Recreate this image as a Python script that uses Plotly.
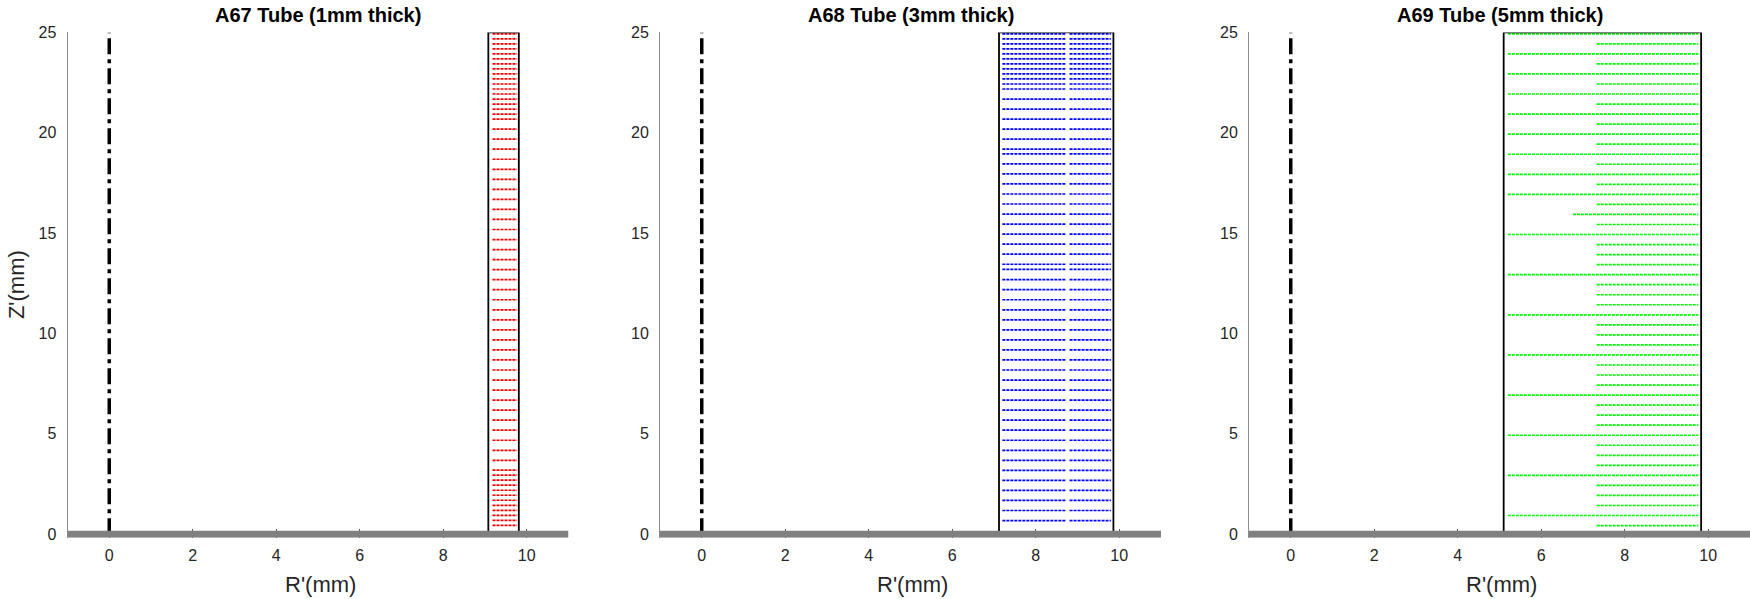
import plotly.graph_objects as go

# ---------------- data ----------------
titles = ["A67 Tube (1mm thick)", "A68 Tube (3mm thick)", "A69 Tube (5mm thick)"]
x_ticks = [0, 2, 4, 6, 8, 10]
y_ticks = [0, 5, 10, 15, 20, 25]
x_range = [-1, 11]
z_top = 25

# tube wall (inner / outer radius)
tube_inner = [9.08, 7.12, 5.10]
tube_outer = [9.81, 9.86, 9.83]

# A67 mesh rows (red)
a67_rows_y = [24.93, 24.68, 24.43, 24.18, 23.93, 23.68, 23.43, 23.18, 22.93, 22.68,
              22.43, 22.18, 21.93, 21.68, 21.43, 21.18, 20.93, 20.68,
              20.18, 19.68, 19.18, 18.68, 18.18, 17.68, 17.18, 16.68, 16.18, 15.68,
              15.18, 14.68, 14.18, 13.68, 13.18, 12.68, 12.18, 11.68, 11.18, 10.68,
              10.18, 9.68, 9.18, 8.68, 8.18, 7.68, 7.18, 6.68, 6.18, 5.68, 5.18,
              4.68, 4.18, 3.68,
              3.19, 2.94, 2.69, 2.44, 2.19, 1.94, 1.69, 1.44, 1.19, 0.94, 0.69, 0.44]
a67_seg = [[9.18, 9.77]]

# A68 mesh rows (blue), two segments per row
a68_rows_y = [24.93, 24.68, 24.43, 24.18, 23.93, 23.68, 23.43, 23.18, 22.93, 22.68,
              22.43, 22.18, 21.68, 21.18, 20.68, 20.18, 19.68, 19.18, 18.95, 18.45,
              17.95, 17.45, 16.95, 16.45, 15.95, 15.45, 14.95, 14.45, 13.95, 13.45,
              13.19, 12.68, 12.18, 11.68, 11.18, 10.68, 10.18, 9.68, 9.18, 8.68,
              8.18, 7.68, 7.18, 6.68, 6.18, 5.68, 5.18, 4.68, 4.18, 3.68, 3.18,
              2.68, 2.18, 1.68, 1.18, 0.68]
a68_seg = [[7.20, 8.73], [8.81, 9.80]]

# A69 mesh rows (green), each row with its own start radius
a69_rows_y = [24.93, 24.43, 23.93, 23.43, 22.93, 22.43, 21.93, 21.43, 20.93, 20.43,
              19.93, 19.43, 18.93, 18.43, 17.93, 17.43, 16.93, 16.43, 15.93, 15.43,
              14.93, 14.43, 13.93, 13.43, 12.93, 12.43, 11.93, 11.43, 10.93, 10.43,
              9.93, 9.43, 8.93, 8.43, 7.93, 7.43, 6.93, 6.43, 5.93, 5.43,
              4.93, 4.43, 3.93, 3.43, 2.93, 2.43, 1.93, 1.43, 0.93, 0.43]
a69_rows_x0 = [5.20, 7.33, 5.20, 7.33, 5.20, 7.33, 5.20, 7.33, 5.20, 7.33,
               5.20, 7.33, 5.20, 7.33, 5.20, 7.33, 5.20, 7.33, 6.76, 7.33,
               5.20, 7.33, 7.33, 7.33, 5.20, 7.33, 7.33, 7.33, 5.20, 7.33,
               7.33, 7.33, 5.20, 7.33, 7.33, 7.33, 5.20, 7.33, 7.33, 7.33,
               5.20, 7.33, 7.33, 7.33, 5.20, 7.33, 7.33, 7.33, 5.20, 7.33]
a69_row_x1 = 9.76

row_colors = ["rgb(255,0,0)", "rgb(0,0,255)", "rgb(0,255,0)"]

# ---------------- build rows ----------------
def rows_from_segments(ys, segs):
    xs, yy = [], []
    for y in ys:
        for a, b in segs:
            xs += [a, b, None]
            yy += [y, y, None]
    return xs, yy

def rows_from_starts(ys, x0s, x1):
    xs, yy = [], []
    for y, a in zip(ys, x0s):
        xs += [a, x1, None]
        yy += [y, y, None]
    return xs, yy

rows = [rows_from_segments(a67_rows_y, a67_seg),
        rows_from_segments(a68_rows_y, a68_seg),
        rows_from_starts(a69_rows_y, a69_rows_x0, a69_row_x1)]

W, H = 1750, 599
x_domains = [[67.5 / W, 568.5 / W], [660 / W, 1161 / W], [1249 / W, 1.0]]
y_domain = [61.2 / H, 1 - 32.4 / H]
tick_font = dict(family="Liberation Sans", size=16, color="#262626")

fig = go.Figure()
annotations = []
for i in range(3):
    ax = "" if i == 0 else str(i + 1)
    xa, ya = "x" + ax, "y" + ax
    rx, ry = rows[i]
    fig.add_trace(go.Scatter(x=rx, y=ry, mode="lines", xaxis=xa, yaxis=ya,
                             line=dict(color=row_colors[i], width=1.7, dash="3px,1px"),
                             hoverinfo="skip", showlegend=False))
    # tube wall outline
    fig.add_trace(go.Scatter(x=[tube_inner[i], tube_inner[i], tube_outer[i], tube_outer[i]],
                             y=[0, z_top, z_top, 0], mode="lines", xaxis=xa, yaxis=ya,
                             line=dict(color="black", width=1.8),
                             hoverinfo="skip", showlegend=False))
    # axis of symmetry
    fig.add_trace(go.Scatter(x=[0, 0], y=[0, z_top], mode="lines", xaxis=xa, yaxis=ya,
                             line=dict(color="black", width=3.5, dash="16px,5px,4px,5px"),
                             hoverinfo="skip", showlegend=False))
    # base plate
    fig.add_trace(go.Scatter(x=x_range, y=[0, 0], mode="lines", xaxis=xa, yaxis=ya,
                             line=dict(color="#808080", width=7),
                             hoverinfo="skip", showlegend=False))

    fig.update_layout(**{
        "xaxis" + ax: dict(domain=x_domains[i], range=x_range, tickvals=x_ticks,
                           ticktext=[str(t) for t in x_ticks],
                           showgrid=False, zeroline=False, showline=False,
                           ticks="inside", ticklen=9, tickcolor="#555555", tickwidth=1,
                           layer="below traces", anchor=ya, automargin=False,
                           tickfont=tick_font, ticklabelstandoff=6),
        "yaxis" + ax: dict(domain=y_domain, range=[-0.18, z_top], tickvals=y_ticks,
                           ticktext=[str(t) for t in y_ticks],
                           showgrid=False, zeroline=False, showline=True,
                           linecolor="#8c8c8c", linewidth=1, ticks="", anchor=xa,
                           automargin=False, tickfont=tick_font, ticklabelstandoff=7),
    })
    annotations.append(dict(text="<b>" + titles[i] + "</b>", xref=xa + " domain", yref=ya + " domain",
                            x=0.5, y=1, yanchor="middle", yshift=17, showarrow=False,
                            font=dict(family="Liberation Sans", size=20, color="black")))
    annotations.append(dict(text="R'(mm)", xref=xa + " domain", yref=ya + " domain",
                            x=0.5, y=0, yanchor="middle", yshift=-47, xshift=2, showarrow=False,
                            font=dict(family="Liberation Sans", size=22, color="#262626")))

annotations.append(dict(text="Z'(mm)", xref="x domain", yref="y domain", x=0, y=0.5,
                        xanchor="center", yanchor="middle", xshift=-51.5, textangle=-90,
                        showarrow=False,
                        font=dict(family="Liberation Sans", size=22, color="#262626")))

fig.update_layout(width=W, height=H, margin=dict(l=0, r=0, t=0, b=0, autoexpand=False),
                  paper_bgcolor="white", plot_bgcolor="white",
                  annotations=annotations, showlegend=False)

fig.write_html("out.html", config={"displayModeBar": False},
               post_script="document.body.style.margin='0px';document.body.style.overflow='hidden';")
